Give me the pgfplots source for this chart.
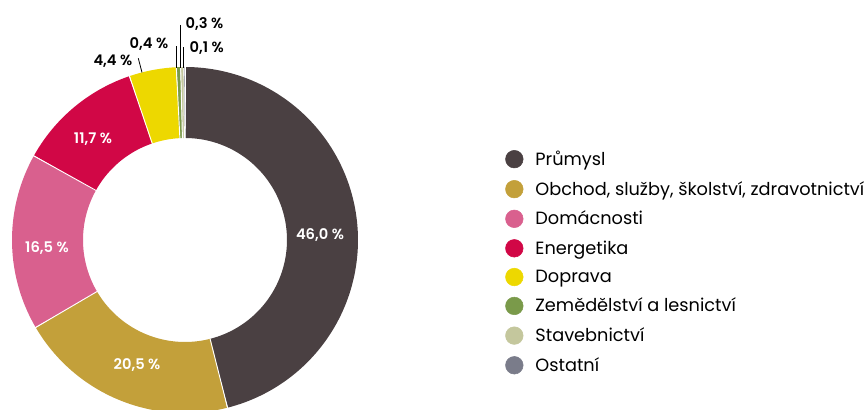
\documentclass[border=0pt]{standalone}
\usepackage{pgfplots}
\pgfplotsset{compat=1.18}
\usepackage{pgfplotstable}
\usepackage{fontspec}
\setmainfont{Poppins}[BoldFont={* SemiBold}]
\definecolor{c1}{HTML}{4A4042}
\definecolor{c2}{HTML}{C3A03A}
\definecolor{c3}{HTML}{D9608E}
\definecolor{c4}{HTML}{D10746}
\definecolor{c5}{HTML}{EDD800}
\definecolor{c6}{HTML}{7A9A4A}
\definecolor{c7}{HTML}{C4C79D}
\definecolor{c8}{HTML}{7A7C8A}
% share of each sector (%), clockwise from the top
\def\tot{99.9}
\gdef\cum{0}
\newcommand{\slice}[2]{%
  \pgfmathsetmacro{\sa}{\cum/\tot*360}%
  \pgfmathsetmacro{\cumnew}{\cum+#2}%
  \pgfmathsetmacro{\sb}{\cumnew/\tot*360}%
  \pgfmathtruncatemacro{\ns}{max(2,(\sb-\sa)/1.5)}%
  \xdef\cum{\cumnew}%
  \edef\doplot{\noexpand\addplot[forget plot, draw=#1, line width=53.25pt, domain=\sa:\sb, samples=\ns, variable=\noexpand\t] ({185+137.5*sin(\noexpand\t)},{170+137.5*cos(\noexpand\t)});}%
  \doplot
  \edef\dosep{\noexpand\addplot[forget plot, draw=white, line width=0.7pt, domain=101:175, samples=2, variable=\noexpand\r] ({185+\noexpand\r*sin(\sa)},{170+\noexpand\r*cos(\sa)});}%
  \dosep
}
\begin{document}
\begin{tikzpicture}
\useasboundingbox (0,0) rectangle (651pt,307.5pt);
\begin{axis}[at={(0,0)}, anchor=south west, x=0.75pt, y=0.75pt,
  xmin=0, xmax=868, ymin=0, ymax=410, hide axis,
  legend cell align=left,
  legend style={at={(axis cs:505,262)}, anchor=north west, draw=none, fill=none,
    font=\fontsize{13.3}{15}\selectfont, row sep=6.35pt, inner sep=0pt,
    /tikz/every odd column/.append style={column sep=7pt}},
  legend image code/.code={\fill[#1] (0.2cm,0pt) circle (6.6pt);},
]
\slice{c1}{46.0}
\slice{c2}{20.5}
\slice{c3}{16.5}
\slice{c4}{11.7}
\slice{c5}{4.4}
\slice{c6}{0.4}
\slice{c7}{0.3}
\slice{c8}{0.1}
% leader lines
\addplot[forget plot, black, line width=0.6pt] coordinates {(180,385) (180,342)};
\addplot[forget plot, black, line width=0.6pt] coordinates {(176.7,363.5) (176.7,342)};
\addplot[forget plot, black, line width=0.6pt] coordinates {(183.6,362.5) (183.6,342)};
\addplot[forget plot, black, line width=0.6pt] coordinates {(138.3,351.7) (142,337.5)};
% labels
\node[font=\bfseries\fontsize{11}{12}\selectfont, anchor=west] at (axis cs:181,385.7) {0,3 \%};
\node[font=\bfseries\fontsize{11}{12}\selectfont, anchor=east] at (axis cs:173,366.3) {0,4 \%};
\node[font=\bfseries\fontsize{11}{12}\selectfont, anchor=west] at (axis cs:185,362) {0,1 \%};
\node[font=\bfseries\fontsize{11}{12}\selectfont, anchor=east] at (axis cs:137,349) {4,4 \%};
\node[font=\bfseries\fontsize{11}{12}\selectfont, white] at (axis cs:320,175) {46,0 \%};
\node[font=\bfseries\fontsize{11}{12}\selectfont, white] at (axis cs:137,45) {20,5 \%};
\node[font=\bfseries\fontsize{11}{12}\selectfont, white] at (axis cs:47,162) {16,5 \%};
\node[font=\bfseries\fontsize{11}{12}\selectfont, white] at (axis cs:93,271) {11,7 \%};
% legend
\addlegendimage{c1}\addlegendentry{Průmysl}
\addlegendimage{c2}\addlegendentry{Obchod, služby, školství, zdravotnictví}
\addlegendimage{c3}\addlegendentry{Domácnosti}
\addlegendimage{c4}\addlegendentry{Energetika}
\addlegendimage{c5}\addlegendentry{Doprava}
\addlegendimage{c6}\addlegendentry{Zemědělství a lesnictví}
\addlegendimage{c7}\addlegendentry{Stavebnictví}
\addlegendimage{c8}\addlegendentry{Ostatní}
\end{axis}
\end{tikzpicture}
\end{document}
